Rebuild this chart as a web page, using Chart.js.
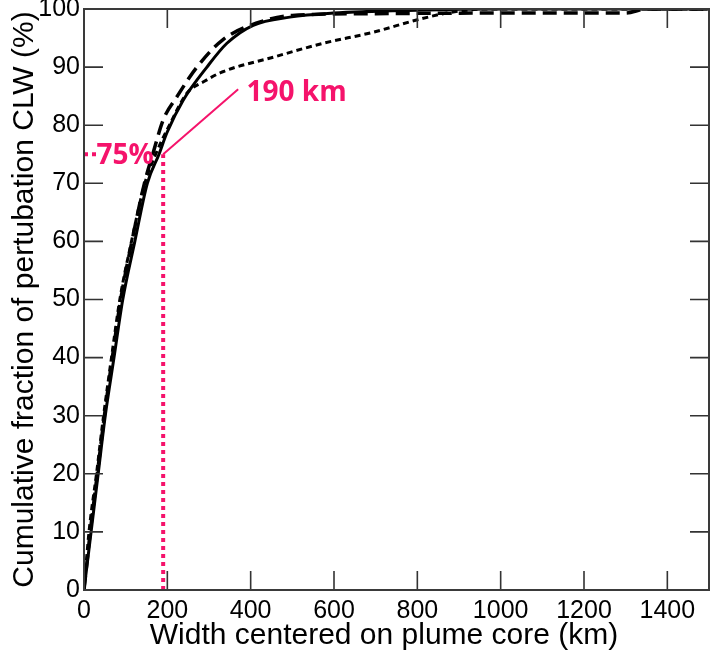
<!DOCTYPE html>
<html>
<head>
<meta charset="utf-8">
<script src="https://cdn.jsdelivr.net/npm/chart.js@4.4.0/dist/chart.umd.min.js"></script>
<style>
  html, body { margin: 0; padding: 0; background: #fff; }
  #wrap { width: 710px; height: 659px; }
</style>
</head>
<body>
<div id="wrap"><canvas id="cdfChart" width="710" height="659"></canvas></div>
<script>
// tick labels
const xTicks = [0, 200, 400, 600, 800, 1000, 1200, 1400];
const yTicks = [0, 10, 20, 30, 40, 50, 60, 70, 80, 90, 100];

// solid curve
const widthSolid = [0, 17, 34, 51, 72, 93, 122, 152, 180, 199, 238, 295, 343, 406, 494, 598, 798, 1000, 1500];
const fracSolid  = [0, 10, 20, 30, 40, 50, 60, 70, 75, 78.7, 84.3, 90, 94.1, 97.2, 98.6, 99.3, 99.8, 100, 100];

// long dashed curve
const widthDash = [0, 15, 32, 49, 68, 88, 115, 145, 165, 190, 223, 271, 333, 415, 500, 700, 1000, 1300, 1350, 1500];
const fracDash  = [0, 10, 20, 30, 40, 50, 60, 70, 75, 80.9, 84.9, 90, 94.7, 97.6, 98.9, 99.2, 99.3, 99.3, 100, 100];

// short dashed curve
const widthDot = [0, 12, 30, 47, 66, 86, 114, 146, 172, 205, 247, 290, 333, 454, 574, 694, 798, 870, 920, 960, 1500];
const fracDot  = [0, 10, 20, 30, 40, 50, 60, 70, 75, 80, 85.5, 87.6, 89.2, 91.7, 94.1, 96, 98.1, 99.3, 99.8, 100, 100];

// annotation
const markWidth = 190;
const markFrac = 75;
const leaderEnd = [370, 86.2];

const PINK = '#f5136b';
const FONT = "'Liberation Sans', Arial, sans-serif";

function pts(xs, ys) {
    return xs.map((x, i) => ({x: x, y: ys[i]}));
}

const insideTicks = {
    id: 'insideTicks',
    afterDatasetsDraw(chart) {
        const ctx = chart.ctx;
        const a = chart.chartArea;
        const xs = chart.scales.x, ys = chart.scales.y;
        const len = 19;
        ctx.save();
        ctx.strokeStyle = '#333';
        ctx.lineWidth = 1.6;
        ctx.beginPath();
        xTicks.forEach(v => {
            const px = xs.getPixelForValue(v);
            ctx.moveTo(px, a.bottom); ctx.lineTo(px, a.bottom - len);
            ctx.moveTo(px, a.top); ctx.lineTo(px, a.top + len);
        });
        yTicks.forEach(v => {
            const py = ys.getPixelForValue(v);
            ctx.moveTo(a.left, py); ctx.lineTo(a.left + len, py);
            ctx.moveTo(a.right, py); ctx.lineTo(a.right - len, py);
        });
        ctx.stroke();
        ctx.lineWidth = 2;
        ctx.strokeStyle = '#3a3a3a';
        ctx.strokeRect(a.left, a.top, a.right - a.left, a.bottom - a.top);

        // labels
        ctx.fillStyle = PINK;
        ctx.font = "bold 28px 'Open Sans', 'Noto Sans', sans-serif";
        ctx.textBaseline = 'middle';
        ctx.textAlign = 'left';
        ctx.fillText('75%', xs.getPixelForValue(30), ys.getPixelForValue(markFrac) + 2);
        ctx.fillText('190 km', xs.getPixelForValue(390), ys.getPixelForValue(85.6));
        ctx.restore();
    }
};

new Chart(document.getElementById('cdfChart').getContext('2d'), {
    type: 'line',
    data: {
        datasets: [{
            data: pts([markWidth, leaderEnd[0]], [markFrac, leaderEnd[1]]),
            borderColor: PINK,
            borderWidth: 2,
            pointRadius: 0,
            tension: 0
        }, {
            data: pts([markWidth, markWidth], [0, markFrac]),
            borderColor: PINK,
            borderWidth: 4,
            borderDash: [4, 4],
            pointRadius: 0,
            tension: 0
        }, {
            data: pts([0, 30], [markFrac, markFrac]),
            borderColor: PINK,
            borderWidth: 4,
            borderDash: [4, 4],
            pointRadius: 0,
            tension: 0
        }, {
            data: pts(widthSolid, fracSolid),
            borderColor: '#000',
            borderWidth: 3,
            pointRadius: 0,
            cubicInterpolationMode: 'monotone'
        }, {
            data: pts(widthDash, fracDash),
            borderColor: '#000',
            borderWidth: 3.5,
            borderDash: [14, 7],
            pointRadius: 0,
            cubicInterpolationMode: 'monotone'
        }, {
            data: pts(widthDot, fracDot),
            borderColor: '#000',
            borderWidth: 3,
            borderDash: [6, 4],
            pointRadius: 0,
            cubicInterpolationMode: 'monotone'
        }]
    },
    options: {
        responsive: false,
        animation: false,
        layout: { padding: { top: 9, right: 1, left: 0, bottom: 0 } },
        plugins: { legend: { display: false }, tooltip: { enabled: false } },
        scales: {
            x: {
                type: 'linear',
                min: 0,
                max: 1500,
                afterBuildTicks: s => { s.ticks = xTicks.map(v => ({value: v})); },
                afterFit: s => { s.height = 69; s.paddingLeft = 0; s.paddingRight = 0; },
                grid: { display: false, drawTicks: false },
                border: { display: false },
                ticks: { color: '#000', padding: 6, maxRotation: 0, autoSkip: false,
                         callback: v => String(v), font: { family: FONT, size: 25 } },
                title: {
                    display: true,
                    text: 'Width centered on plume core (km)   ',
                    color: '#000',
                    padding: { top: 0, bottom: 5 },
                    font: { family: FONT, size: 30, lineHeight: 1.2 }
                }
            },
            y: {
                type: 'linear',
                min: 0,
                max: 100,
                afterBuildTicks: s => { s.ticks = yTicks.map(v => ({value: v})); },
                afterFit: s => { s.width = 84; s.paddingTop = 0; s.paddingBottom = 0; },
                grid: { display: false, drawTicks: false },
                border: { display: false },
                ticks: { color: '#000', padding: 4, autoSkip: false,
                         callback: v => String(v), font: { family: FONT, size: 25 } },
                title: {
                    display: true,
                    text: 'Cumulative fraction of pertubation CLW (%)',
                    color: '#000',
                    padding: { top: 7, bottom: 0 },
                    font: { family: FONT, size: 30, lineHeight: 1.2 }
                }
            }
        }
    },
    plugins: [insideTicks]
});
</script>
</body>
</html>
